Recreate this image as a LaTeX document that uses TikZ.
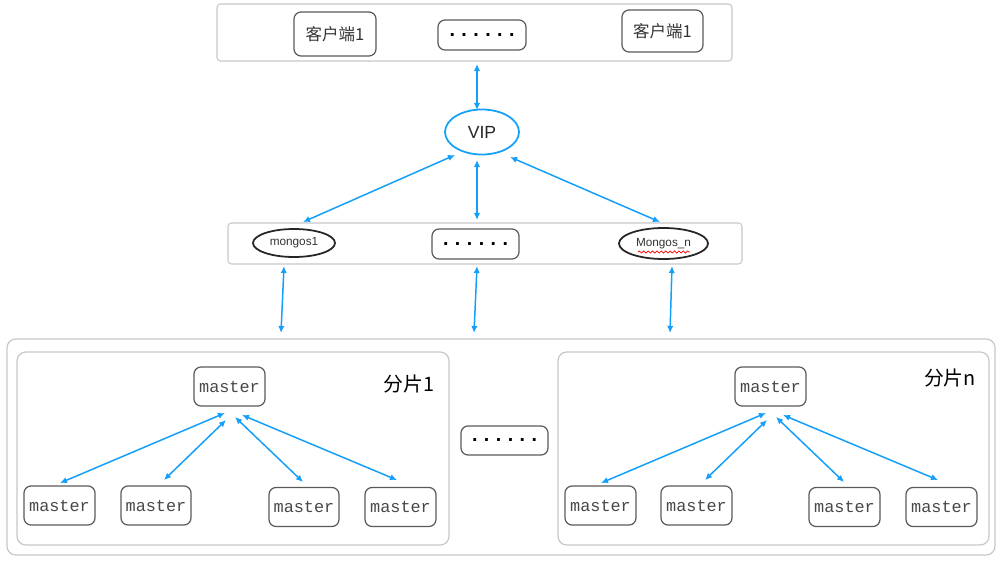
\documentclass[tikz,border=0pt]{standalone}
\usepackage{fontspec}
\setmainfont{Liberation Sans}
\newfontfamily\cjk{Noto Sans CJK SC}
\newfontfamily\mono{Liberation Mono}
\usetikzlibrary{arrows.meta,shapes.geometric,decorations.pathmorphing}
\definecolor{arr}{RGB}{20,160,250}
\definecolor{frame}{RGB}{200,200,200}
\definecolor{inner}{RGB}{90,90,90}
\begin{document}
\begin{tikzpicture}[x=0.02cm,y=-0.02cm,
  container/.style={draw=frame,line width=0.6pt,rounded corners=2pt},
  shard/.style={draw=frame,line width=0.7pt,rounded corners=5pt},
  rbox/.style={draw=inner,line width=0.7pt,rounded corners=4pt,inner sep=0pt},
  mnode/.style={rbox,minimum width=71*0.02cm,minimum height=39*0.02cm,font=\mono\fontsize{9.6pt}{11pt}\selectfont,text=inner!80!black},
  dotbox/.style={rbox,minimum width=88*0.02cm,minimum height=30*0.02cm,font=\mono\bfseries\fontsize{11.3pt}{12pt}\selectfont},
  cnode/.style={rbox,minimum width=82*0.02cm,minimum height=44*0.02cm,font=\cjk\fontsize{9.4pt}{11pt}\selectfont,text=black!80},
  mell/.style={draw=black!85,ellipse,line width=1pt,inner sep=0pt,font=\fontsize{6.7pt}{8pt}\selectfont,text=black!80},
  link/.style={draw=arr,line width=0.85pt,{Latex[length=4pt,width=3.6pt]}-{Latex[length=4pt,width=3.6pt]}},
  shardlabel/.style={font=\cjk\fontsize{11.3pt}{13pt}\selectfont,inner sep=0pt}
]
\useasboundingbox (0,0) rectangle (1000,561);
\fill[white] (0,0) rectangle (1000,561);
% top container
\node[container,minimum width=515*0.02cm,minimum height=57*0.02cm] (top) at (474.5,32.5) {};
\node[cnode] (c1) at (335,34) {客户端1};
\node[dotbox] (cd) at (482,35) {......};
\node[cnode,minimum width=81*0.02cm,minimum height=42*0.02cm] (c2) at (662.5,31) {客户端1};
% VIP
\node[draw=arr,ellipse,line width=1pt,minimum width=74*0.02cm,minimum height=45*0.02cm,font=\fontsize{10pt}{12pt}\selectfont,text=black!85] (vip) at (482,132) {VIP};
% mongos container
\node[container,minimum width=514*0.02cm,minimum height=41*0.02cm] (mg) at (485,243.5) {};
\node[mell,minimum width=82*0.02cm,minimum height=28*0.02cm] (m1) at (294,243) {mongos1};
\node[dotbox,minimum width=87*0.02cm] (md) at (475.5,244) {......};
\node[mell,minimum width=89*0.02cm,minimum height=31*0.02cm] (mn) at (663.5,243.5) {Mongos\_n};
\draw[red,line width=0.4pt,decorate,decoration={snake,amplitude=0.6pt,segment length=2.5pt}] (638,252) -- (690,252);
% outer shard container
\node[shard,minimum width=988*0.02cm,minimum height=216*0.02cm] (outer) at (501,447) {};
\node[shard,minimum width=432*0.02cm,minimum height=193*0.02cm] (s1) at (233,448.5) {};
\node[shard,minimum width=431*0.02cm,minimum height=193*0.02cm] (sn) at (773.5,448.5) {};
\node[dotbox,minimum width=87*0.02cm,minimum height=29*0.02cm] (sd) at (504.5,440.5) {......};
\node[shardlabel] (l1) at (409,384) {分片1};
\node[shardlabel] (ln) at (950,378) {分片n};
% shard 1 nodes
\node[mnode] (a0) at (229.5,386.5) {master};
\node[mnode] (a1) at (59.5,505.5) {master};
\node[mnode,minimum width=70*0.02cm] (a2) at (156,505.5) {master};
\node[mnode,minimum width=70*0.02cm] (a3) at (304,507) {master};
\node[mnode] (a4) at (400.5,507) {master};
% shard n nodes
\node[mnode] (b0) at (770.5,386.5) {master};
\node[mnode] (b1) at (600.5,505.5) {master};
\node[mnode] (b2) at (696.5,505.5) {master};
\node[mnode] (b3) at (844.5,507) {master};
\node[mnode] (b4) at (941.5,507) {master};
% coordinates for arrow ends
\coordinate (t1) at (477,64);
\coordinate (t2) at (477,110);
\coordinate (v1) at (455,155);
\coordinate (v2) at (477,160);
\coordinate (v3) at (510,157);
\coordinate (e1) at (303,222);
\coordinate (e2) at (477,220);
\coordinate (e3) at (660,222);
\foreach \i/\xa/\xb in {1/284/281,2/477/474,3/672/670}{
  \coordinate (u\i) at (\xa,266);
  \coordinate (d\i) at (\xb,333);
}
\foreach \p/\o in {a/0,b/541}{
  \coordinate (\p s1) at (225+\o,413);
  \coordinate (\p e1) at (60+\o,483);
  \coordinate (\p s2) at (226+\o,420);
  \coordinate (\p e2) at (164+\o,480);
  \coordinate (\p s3) at (235+\o,417);
  \coordinate (\p e3) at (303+\o,482);
  \coordinate (\p s4) at (242+\o,415);
  \coordinate (\p e4) at (397+\o,480);
}
\draw[link] (t1) -- (t2);
\draw[link] (v1) -- (e1);
\draw[link] (v2) -- (e2);
\draw[link] (v3) -- (e3);
\foreach \i in {1,2,3} \draw[link] (u\i) -- (d\i);
\foreach \p in {a,b} \foreach \i in {1,2,3,4} \draw[link] (\p s\i) -- (\p e\i);
\end{tikzpicture}
\end{document}
